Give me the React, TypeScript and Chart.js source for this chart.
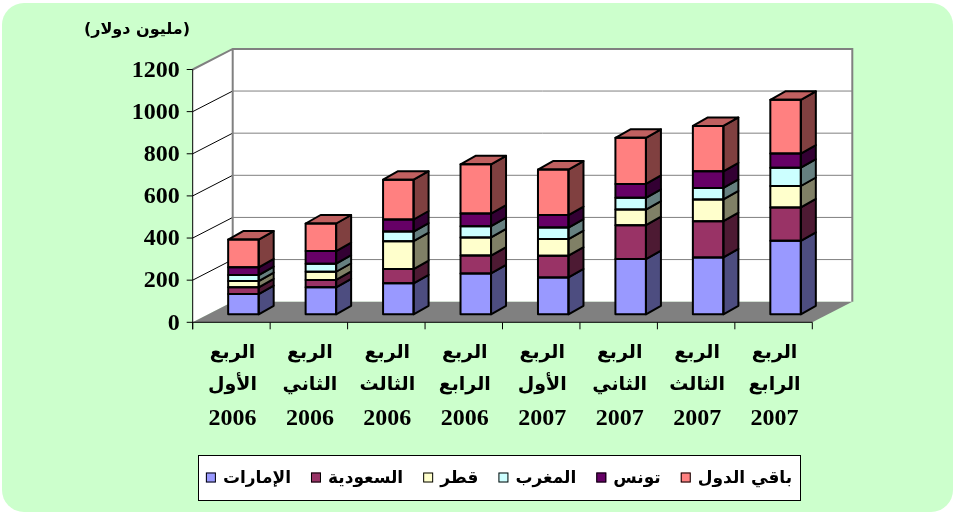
import React, { useEffect, useRef } from 'react';
import { Chart, registerables } from 'chart.js';

Chart.register(...registerables);

// ---------- data ----------
const quarterWord = ['الربع', 'الربع', 'الربع', 'الربع', 'الربع', 'الربع', 'الربع', 'الربع'];
const quarterOrdinal = ['الأول', 'الثاني', 'الثالث', 'الرابع', 'الأول', 'الثاني', 'الثالث', 'الرابع'];
const years = ['2006', '2006', '2006', '2006', '2007', '2007', '2007', '2007'];
const yTickValues = [0, 200, 400, 600, 800, 1000, 1200];
const unitTitle = '(مليون دولار)';

const seriesNames = ['الإمارات', 'السعودية', 'قطر', 'المغرب', 'تونس', 'باقي الدول'];
const uae = [96, 128, 147, 194, 175, 262, 270, 349];
const saudi = [32, 35, 68, 85, 103, 161, 172, 158];
const qatar = [30, 39, 132, 86, 79, 74, 103, 102];
const morocco = [28, 38, 46, 53, 55, 56, 55, 87];
const tunisia = [37, 60, 57, 60, 59, 66, 79, 67];
const others = [132, 131, 189, 234, 216, 219, 215, 255];

// ---------- styles ----------
const frontColors = ['#9999FF', '#993366', '#FFFFCC', '#CCFFFF', '#660066', '#FF8080'];
const sideColors = ['#4D4D80', '#4D1A33', '#808066', '#668080', '#330033', '#804040'];
const topColors = ['#7373BF', '#73264C', '#BFBF99', '#99BFBF', '#4D004D', '#C06060'];

const WALL_DX = 40;
const WALL_DY = 20.6;
const BAR_SHIFT_X = 12;
const BAR_SHIFT_Y = 8;
const BAR_DX = 15;
const BAR_DY = 8.5;

const ARABIC_FONT = '"DejaVu Sans", "Noto Sans", sans-serif';
const SERIF_FONT = '"Liberation Serif", "Times New Roman", "DejaVu Serif", serif';

function poly(ctx: CanvasRenderingContext2D, pts: number[][]) {
  ctx.beginPath();
  ctx.moveTo(pts[0][0], pts[0][1]);
  for (let i = 1; i < pts.length; i++) ctx.lineTo(pts[i][0], pts[i][1]);
  ctx.closePath();
}

const threeDPlugin = {
  id: 'threeD',
  beforeDatasetsDraw(chart: any) {
    const ctx: CanvasRenderingContext2D = chart.ctx;
    const xs = chart.scales.x;
    const ys = chart.scales.y;
    const L = chart.chartArea.left;
    const R = chart.chartArea.right;
    const B = ys.getPixelForValue(0);
    const T = ys.getPixelForValue(yTickValues[yTickValues.length - 1]);

    ctx.save();
    // left wall
    ctx.fillStyle = '#FFFFFF';
    poly(ctx, [[L, B], [L + WALL_DX, B - WALL_DY], [L + WALL_DX, T - WALL_DY], [L, T]]);
    ctx.fill();
    // back wall
    ctx.fillRect(L + WALL_DX, T - WALL_DY, R - L, B - T);
    // floor
    ctx.fillStyle = '#808080';
    poly(ctx, [[L, B], [R, B], [R + WALL_DX, B - WALL_DY], [L + WALL_DX, B - WALL_DY]]);
    ctx.fill();

    // grid lines
    for (let i = 1; i < yTickValues.length - 1; i++) {
      const py = ys.getPixelForValue(yTickValues[i]);
      ctx.strokeStyle = '#808080';
      ctx.lineWidth = 1;
      ctx.beginPath();
      ctx.moveTo(L + WALL_DX, py - WALL_DY);
      ctx.lineTo(R + WALL_DX, py - WALL_DY);
      ctx.stroke();
      ctx.strokeStyle = '#000000';
      ctx.beginPath();
      ctx.moveTo(L, py);
      ctx.lineTo(L + WALL_DX, py - WALL_DY);
      ctx.stroke();
    }
    // wall borders
    ctx.strokeStyle = '#808080';
    ctx.lineWidth = 2;
    ctx.beginPath();
    ctx.moveTo(L, T);
    ctx.lineTo(L + WALL_DX, T - WALL_DY);
    ctx.lineTo(R + WALL_DX, T - WALL_DY);
    ctx.lineTo(R + WALL_DX, B - WALL_DY);
    ctx.moveTo(L + WALL_DX, T - WALL_DY);
    ctx.lineTo(L + WALL_DX, B - WALL_DY);
    ctx.stroke();

    // front axes
    ctx.strokeStyle = '#000000';
    ctx.lineWidth = 1;
    ctx.beginPath();
    ctx.moveTo(L, T);
    ctx.lineTo(L, B + 7);
    ctx.moveTo(L, B);
    ctx.lineTo(R, B);
    for (const v of yTickValues) {
      const py = ys.getPixelForValue(v);
      ctx.moveTo(L - 6, py);
      ctx.lineTo(L, py);
    }
    const n = quarterWord.length;
    const step = (R - L) / n;
    for (let i = 0; i <= n; i++) {
      const px = i < n ? xs.getPixelForValue(i) - step / 2 : xs.getPixelForValue(n - 1) + step / 2;
      ctx.moveTo(px, B);
      ctx.lineTo(px, B + 7);
    }
    ctx.stroke();
    ctx.restore();

    ctx.save();
    ctx.translate(BAR_SHIFT_X, -BAR_SHIFT_Y);
  },
  afterDatasetsDraw(chart: any) {
    const ctx: CanvasRenderingContext2D = chart.ctx;
    const nSets = chart.data.datasets.length;
    for (let d = 0; d < nSets; d++) {
      const meta = chart.getDatasetMeta(d);
      meta.data.forEach((el: any) => {
        const p = el.getProps(['x', 'y', 'base', 'width'], true);
        const left = p.x - p.width / 2;
        const right = p.x + p.width / 2;
        const top = Math.min(p.y, p.base);
        const bottom = Math.max(p.y, p.base);
        ctx.lineWidth = 2;
        ctx.strokeStyle = '#000000';
        ctx.lineJoin = 'round';
        // side
        ctx.fillStyle = sideColors[d];
        poly(ctx, [[right, top], [right + BAR_DX, top - BAR_DY], [right + BAR_DX, bottom - BAR_DY], [right, bottom]]);
        ctx.fill();
        ctx.stroke();
        if (d === nSets - 1) {
          ctx.fillStyle = topColors[d];
          poly(ctx, [[left, top], [left + BAR_DX, top - BAR_DY], [right + BAR_DX, top - BAR_DY], [right, top]]);
          ctx.fill();
          ctx.stroke();
        }
        ctx.strokeRect(left, top, right - left, bottom - top);
      });
    }
    ctx.restore();

    // axis labels
    const xs = chart.scales.x;
    const ys = chart.scales.y;
    const L = chart.chartArea.left;
    ctx.save();
    ctx.fillStyle = '#000000';
    ctx.textAlign = 'right';
    ctx.textBaseline = 'middle';
    ctx.font = 'bold 24px ' + SERIF_FONT;
    for (const v of yTickValues) {
      ctx.fillText(String(v), L - 13, ys.getPixelForValue(v) + 1);
    }
    ctx.textAlign = 'center';
    for (let i = 0; i < quarterWord.length; i++) {
      const cx = xs.getPixelForValue(i);
      ctx.font = 'bold 19px ' + ARABIC_FONT;
      ctx.fillText(quarterWord[i], cx + 1, 353);
      ctx.fillText(quarterOrdinal[i], cx + 1, 385);
      ctx.font = 'bold 24px ' + SERIF_FONT;
      ctx.fillText(years[i], cx + 1, 419);
    }
    // unit title
    ctx.font = 'bold 16px ' + ARABIC_FONT;
    ctx.fillText(unitTitle, 137, 30);

    // legend
    const boxL = 198, boxR = 800, boxT = 455, boxB = 500;
    ctx.fillStyle = '#FFFFFF';
    ctx.fillRect(boxL, boxT, boxR - boxL, boxB - boxT);
    ctx.strokeStyle = '#000000';
    ctx.lineWidth = 1;
    ctx.strokeRect(boxL + 0.5, boxT + 0.5, boxR - boxL, boxB - boxT);
    ctx.font = 'bold 17px ' + ARABIC_FONT;
    const sq = 10, gapIn = 7, gapOut = 20;
    const widths = seriesNames.map((s) => sq + gapIn + ctx.measureText(s).width);
    const total = widths.reduce((a, b) => a + b, 0) + gapOut * (widths.length - 1);
    let xPos = (boxL + boxR) / 2 - total / 2;
    const cy = (boxT + boxB) / 2;
    ctx.textAlign = 'left';
    seriesNames.forEach((s, i) => {
      ctx.fillStyle = frontColors[i];
      ctx.fillRect(xPos, cy - sq / 2, sq, sq);
      ctx.strokeRect(xPos + 0.5, cy - sq / 2 + 0.5, sq - 1, sq - 1);
      ctx.fillStyle = '#000000';
      ctx.fillText(s, xPos + sq + gapIn, cy + 1);
      xPos += widths[i] + gapOut;
    });
    ctx.restore();
  },
};

export default function App() {
  const canvasRef = useRef<HTMLCanvasElement>(null);

  useEffect(() => {
    if (!canvasRef.current) return;
    const series = [uae, saudi, qatar, morocco, tunisia, others];
    const chart = new Chart(canvasRef.current, {
      type: 'bar',
      data: {
        labels: quarterWord.map((w, i) => `${w} ${quarterOrdinal[i]} ${years[i]}`),
        datasets: series.map((values, i) => ({
          label: seriesNames[i],
          data: values,
          backgroundColor: frontColors[i],
          borderWidth: 0,
          barPercentage: 0.394,
          categoryPercentage: 1,
          clip: false as any,
        })),
      },
      options: {
        responsive: false,
        animation: false,
        events: [],
        layout: {
          padding: { left: 192.7, right: 142.7, top: 69.5, bottom: 191.7 },
        },
        plugins: {
          legend: { display: false },
          tooltip: { enabled: false },
          title: { display: false },
        },
        scales: {
          x: { stacked: true, display: false },
          y: {
            stacked: true,
            display: false,
            min: 0,
            max: 1200,
            ticks: { stepSize: 200 },
          },
        },
      },
      plugins: [threeDPlugin],
    });
    return () => chart.destroy();
  }, []);

  return (
    <div style={{ position: 'fixed', left: 0, top: 0, width: 955, height: 514, background: '#FFFFFF' }}>
      <div
        style={{
          position: 'absolute',
          left: 2,
          top: 3,
          width: 951,
          height: 509,
          background: '#CCFFCC',
          borderRadius: 22,
        }}
      />
      <canvas
        ref={canvasRef}
        width={955}
        height={514}
        style={{ position: 'absolute', left: 0, top: 0, width: 955, height: 514 }}
      />
    </div>
  );
}
